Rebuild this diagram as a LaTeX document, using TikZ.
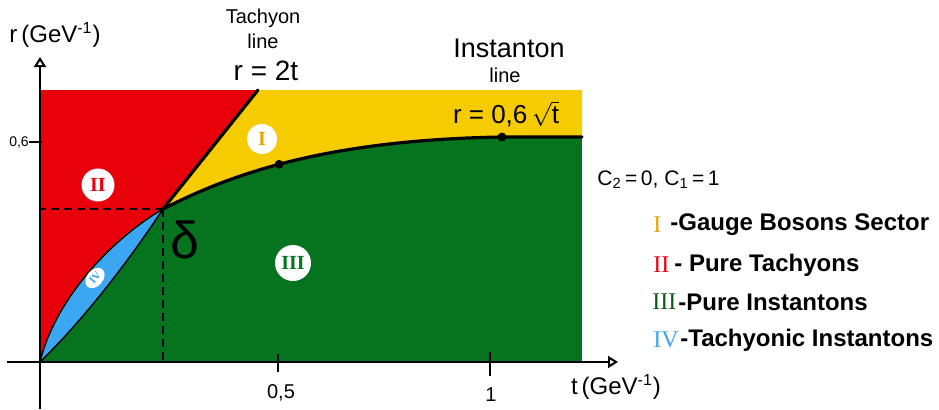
\documentclass[tikz,border=0pt]{standalone}
\usepackage{fontspec}
\setmainfont{Liberation Sans}
\newfontfamily\numfont{Liberation Serif}
\usetikzlibrary{arrows.meta,positioning,shapes.geometric}
\definecolor{RegionRed}{HTML}{E8000B}
\definecolor{RegionYellow}{HTML}{F6CC00}
\definecolor{RegionGreen}{HTML}{06731F}
\definecolor{RegionBlue}{HTML}{3BA7F2}
\definecolor{NumOrange}{HTML}{E9A100}
\definecolor{NumGreen}{HTML}{0B5A17}

\begin{document}
\begin{tikzpicture}[x=0.5pt,y=-0.5pt,
  axis/.style={line width=1pt, -{Triangle[open, length=5pt, width=6pt]}},
  tick/.style={line width=1pt},
  bound/.style={line width=1.6pt, line cap=round},
  guide/.style={line width=1pt, dash pattern=on 4pt off 2.5pt},
  badge/.style={circle, fill=white, inner sep=0pt, minimum size=#1},
  lbl/.style={font=\fontsize{#1}{#1}\selectfont, inner sep=0pt},
  legnum/.style={anchor=west, inner sep=0pt, font=\fontsize{12}{12}\numfont},
  legtxt/.style={anchor=west, inner sep=0pt, font=\fontsize{12}{12}\selectfont\bfseries}
]
\useasboundingbox (0,0) rectangle (939,409);
\coordinate (O) at (40,362);
\coordinate (delta) at (163,209);
\coordinate (tacTop) at (258,90);
\coordinate (instEnd) at (502,137);

\fill[RegionGreen] (40,90) rectangle (582,362);
\fill[RegionYellow] (tacTop) -- (582,90) -- (582,137) -- (instEnd) .. controls (330,140) and (235,172) .. (delta) -- cycle;
\fill[RegionRed] (40,90) -- (tacTop) -- (delta) .. controls (110,240) and (55,300) .. (O) -- cycle;
\filldraw[fill=RegionBlue, draw=black, line width=0.7pt] (O) .. controls (55,300) and (110,240) .. (delta) .. controls (128,262) and (85,318) .. (O) -- cycle;

\draw[guide] (delta) -- (delta -| O);
\draw[guide] (delta) -- (delta |- O);

\draw[bound] (delta) -- (tacTop);
\draw[bound] (delta) .. controls (235,172) and (330,140) .. (instEnd) coordinate[pos=0.45] (dotA) -- (582,137);
\fill (dotA) circle[radius=2.2pt];
\fill (instEnd) circle[radius=2.2pt];

\draw[axis] (40,409) -- (40,57);
\draw[axis] (7,362) -- (618,362);
\draw[tick] (29,142) -- (42,142);
\draw[tick] (278,354) -- (278,372);
\draw[tick] (490,352) -- (490,376);

\node[lbl=7] (tick06) at (19,142) {0,6};
\node[lbl=10] (tick05) at (281,393) {0,5};
\node[lbl=10] (tick1) at (491,395) {1};
\node[lbl=12] (rlabel) at (55,35) {r\,(GeV\textsuperscript{-1})};
\node[lbl=12] (tlabel) at (616,387) {t\,(GeV\textsuperscript{-1})};

\node[lbl=10] (tachyon) at (263,18) {Tachyon};
\node[lbl=10] (tacline) at (263,41) {line};
\node[lbl=14] (tacform) at (266,71) {r = 2t};
\node[lbl=13.5] (instanton) at (509,48) {Instanton};
\node[lbl=10] (instline) at (505,75) {line};
\node[lbl=13] (instform) at (506,114) {r = 0,6\,$\sqrt{\mbox{t}}$};
\node[lbl=26] (deltalbl) at (185,240) {δ};
\node[lbl=10.5, anchor=west] (charges) at (597,180) {C\textsubscript{2}\,=\,0, C\textsubscript{1}\,=\,1};

\node[badge=15pt, text=NumOrange, font=\fontsize{10}{10}\numfont\bfseries] (regI) at (262,139) {I};
\node[badge=16.5pt, text=RegionRed, font=\fontsize{10}{10}\numfont\bfseries] (regII) at (98,185) {II};
\node[badge=18pt, text=RegionGreen, font=\fontsize{10}{10}\numfont\bfseries] (regIII) at (293,263) {III};
\node[ellipse, fill=white, inner sep=1pt, minimum width=10pt, rotate=50, text=RegionBlue, font=\fontsize{5.5}{5.5}\numfont\bfseries] (regIV) at (95,278) {IV};

\node[legnum, text=NumOrange] (legI) at (653,225) {I};
\node[legnum, text=RegionRed] (legII) at (653,265) {II};
\node[legnum, text=NumGreen] (legIII) at (652,302) {III};
\node[legnum, text=RegionBlue] (legIV) at (653,340) {IV};
\node[legtxt] (txtI) at (670,225) {-Gauge Bosons Sector};
\node[legtxt] (txtII) at (674,265) {- Pure Tachyons};
\node[legtxt] (txtIII) at (678,302) {-Pure Instantons};
\node[legtxt] (txtIV) at (680,340) {-Tachyonic Instantons};
\end{tikzpicture}
\end{document}
